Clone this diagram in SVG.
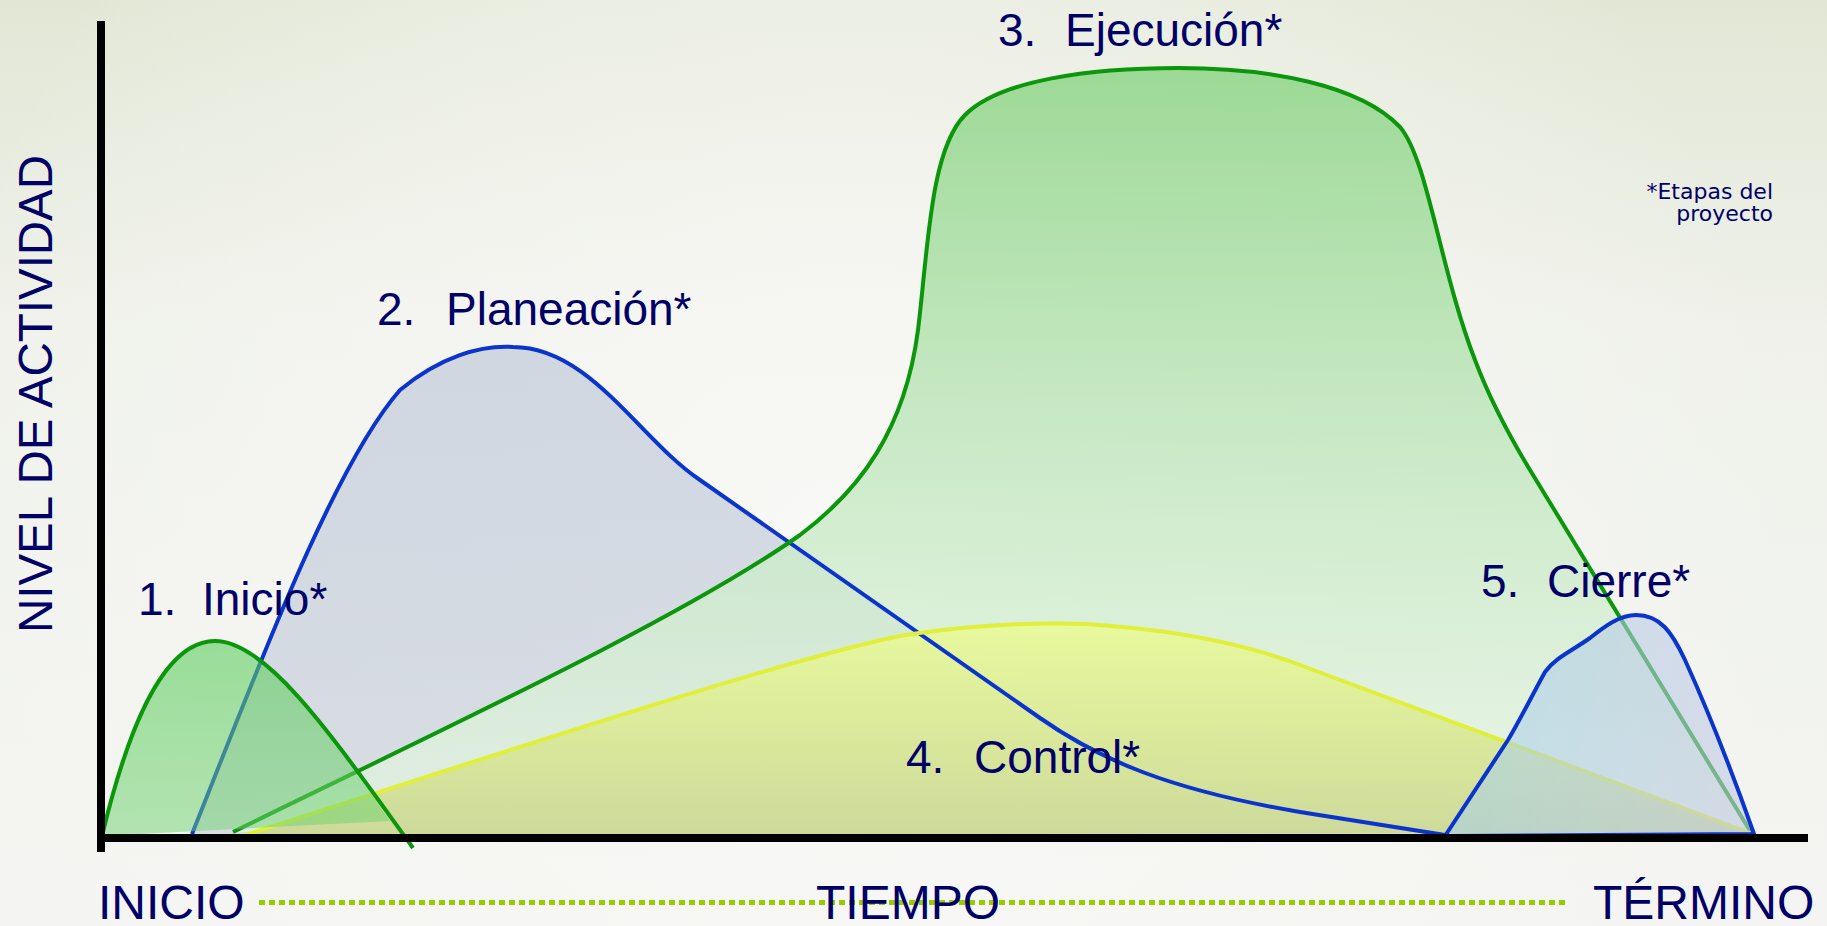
<svg xmlns="http://www.w3.org/2000/svg" width="1827" height="926" viewBox="0 0 1827 926">
<defs>
<linearGradient id="bgv" x1="0" y1="0" x2="0" y2="926" gradientUnits="userSpaceOnUse">
<stop offset="0" stop-color="#e2e7d5"/>
<stop offset="0.35" stop-color="#eff1ea"/>
<stop offset="1" stop-color="#f4f5f2"/>
</linearGradient>
<radialGradient id="bgr" cx="850" cy="560" r="950" gradientUnits="userSpaceOnUse">
<stop offset="0" stop-color="#fafaf8" stop-opacity="0.85"/>
<stop offset="0.6" stop-color="#f8f8f5" stop-opacity="0.45"/>
<stop offset="1" stop-color="#f8f8f5" stop-opacity="0"/>
</radialGradient>
<linearGradient id="gPlan" x1="0" y1="347" x2="0" y2="834" gradientUnits="userSpaceOnUse">
<stop offset="0" stop-color="#cdd4e0" stop-opacity="0.9"/>
<stop offset="1" stop-color="#c2cad8" stop-opacity="0.55"/>
</linearGradient>
<linearGradient id="gEjec" x1="0" y1="68" x2="0" y2="834" gradientUnits="userSpaceOnUse">
<stop offset="0" stop-color="#98d891" stop-opacity="0.95"/>
<stop offset="0.45" stop-color="#bfe6bc" stop-opacity="0.85"/>
<stop offset="1" stop-color="#e6f5e4" stop-opacity="0.7"/>
</linearGradient>
<linearGradient id="gCtrl" x1="0" y1="622" x2="0" y2="834" gradientUnits="userSpaceOnUse">
<stop offset="0" stop-color="#eafa98" stop-opacity="0.92"/>
<stop offset="1" stop-color="#ccd894" stop-opacity="0.92"/>
</linearGradient>
<linearGradient id="gIni" x1="0" y1="641" x2="0" y2="836" gradientUnits="userSpaceOnUse">
<stop offset="0" stop-color="#5ccc5c" stop-opacity="0.6"/>
<stop offset="1" stop-color="#70d270" stop-opacity="0.5"/>
</linearGradient>
<linearGradient id="gCie" x1="1445" y1="0" x2="1754" y2="0" gradientUnits="userSpaceOnUse">
<stop offset="0" stop-color="#a4d0ec" stop-opacity="0.55"/>
<stop offset="1" stop-color="#c4c8e2" stop-opacity="0.6"/>
</linearGradient>
</defs>
<style>
.lbl{font-family:"Liberation Sans",Arial,sans-serif;font-size:46px;fill:#000066}
.axl{font-family:"Liberation Sans",Arial,sans-serif;font-size:48px;fill:#000066}
.note{font-family:"DejaVu Sans",sans-serif;font-size:22px;fill:#000066;text-anchor:end}
.blue{fill:none;stroke:#0a34cc;stroke-width:4;stroke-linejoin:round}
.green{fill:none;stroke:#0b960b;stroke-width:4;stroke-linejoin:round}
.yellow{fill:none;stroke:#dfef3a;stroke-width:4;stroke-linejoin:round}
.axis{stroke:#000;stroke-width:8;fill:none}
</style>
<rect width="1827" height="926" fill="url(#bgv)"/>
<rect width="1827" height="926" fill="url(#bgr)"/>

<g id="areas">
<path d="M192,834 C250,690 330,470 400,390 C440,357 480,345 513,347 C590,347 640,440 700,480 L1040,718 C1100,760 1170,790 1300,812 L1445,835 Z" fill="url(#gPlan)"/>
<path d="M233,832 C430,735 680,620 800,535 C860,490 905,430 918,330 C928,250 930,150 965,115 C1000,80 1090,68 1179,68 C1270,68 1360,85 1400,127 C1428,160 1440,270 1475,360 C1490,400 1510,437 1530,470 L1752,834 Z" fill="url(#gEjec)"/>
<path d="M245,835 C450,770 780,660 900,636 C960,626 1030,622 1085,624 C1150,628 1230,638 1300,665 L1750,833 Z" fill="url(#gCtrl)"/>
</g>

<g id="fase-2-planeacion">
<text class="lbl" y="325"><tspan x="377">2.</tspan><tspan x="446">Planeación*</tspan></text>
<path class="blue" d="M192,834 C250,690 330,470 400,390 C440,357 480,345 513,347 C590,347 640,440 700,480 L1040,718 C1100,760 1170,790 1300,812 L1445,835"/>
</g>

<g id="fase-3-ejecucion">
<text class="lbl" y="46"><tspan x="998">3.</tspan><tspan x="1065">Ejecución*</tspan></text>
<path class="green" d="M233,832 C430,735 680,620 800,535 C860,490 905,430 918,330 C928,250 930,150 965,115 C1000,80 1090,68 1179,68 C1270,68 1360,85 1400,127 C1428,160 1440,270 1475,360 C1490,400 1510,437 1530,470 L1752,834"/>
</g>

<g id="fase-4-control">
<text class="lbl" y="773"><tspan x="906">4.</tspan><tspan x="974">Control*</tspan></text>
<path class="yellow" d="M245,835 C450,770 780,660 900,636 C960,626 1030,622 1085,624 C1150,628 1230,638 1300,665 L1750,833"/>
</g>

<g id="fase-1-inicio">
<text class="lbl" y="615"><tspan x="138">1.</tspan><tspan x="202">Inicio*</tspan></text>
<path d="M102,836 C125,740 160,641 215,641 C268,641 330,735 390,821 L102,836 Z" fill="url(#gIni)"/>
<path class="green" d="M102,836 C125,740 160,641 215,641 C268,641 335,740 413,848"/>
</g>

<g id="fase-5-cierre">
<text class="lbl" y="597"><tspan x="1481">5.</tspan><tspan x="1547">Cierre*</tspan></text>
<path class="blue" style="fill:url(#gCie)" d="M1445,836 L1508,740 C1520,720 1535,690 1545,672 C1555,658 1570,652 1590,638 C1605,626 1620,615 1636,615 C1660,615 1672,632 1685,660 C1710,715 1735,780 1754,834 Z"/>
</g>

<g id="ejes">
<line class="axis" x1="101" y1="21" x2="101" y2="852"/>
<line class="axis" x1="97" y1="838" x2="1808" y2="838"/>
</g>

<g id="eje-tiempo">
<line x1="259" y1="902.5" x2="1565" y2="902.5" stroke="#99cc00" stroke-width="5" stroke-dasharray="6 4"/>
<text class="axl" x="98" y="919">INICIO</text>
<text class="axl" x="816" y="919">TIEMPO</text>
<text class="axl" x="1593" y="919">TÉRMINO</text>
</g>

<g id="eje-actividad">
<text class="axl" transform="translate(52,633) rotate(-90)" textLength="478" lengthAdjust="spacingAndGlyphs">NIVEL DE ACTIVIDAD</text>
</g>

<g id="nota">
<text class="note" x="1773" y="199">*Etapas del</text>
<text class="note" x="1773" y="221">proyecto</text>
</g>
</svg>
